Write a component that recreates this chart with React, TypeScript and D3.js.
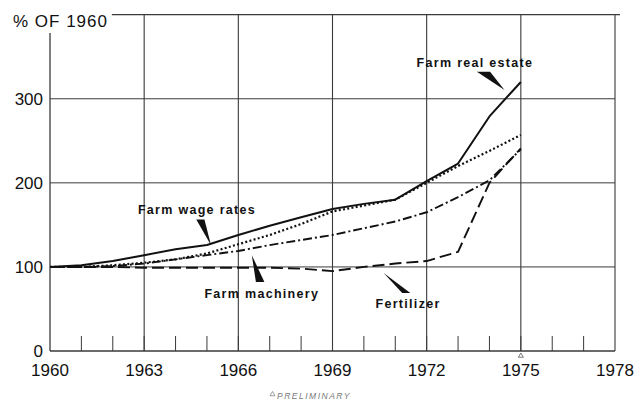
import React from "react";
import * as d3 from "d3";

// values, % of 1960
const years = [1960, 1961, 1962, 1963, 1964, 1965, 1966, 1967, 1968, 1969, 1970, 1971, 1972, 1973, 1974, 1975];
const realEstate = [100, 102, 107, 114, 121, 126, 138, 149, 159, 169, 175, 180, 202, 223, 279, 320];
const wageRates = [100, 100, 102, 105, 109, 116, 127, 138, 151, 166, 173, 180, 200, 220, 238, 257];
const machinery = [100, 100, 101, 104, 109, 114, 119, 126, 132, 138, 146, 154, 165, 183, 203, 240];
const fertilizer = [100, 100, 100, 99, 99, 99, 99, 99, 98, 95, 100, 104, 107, 118, 200, 241];

const xTicks = [1960, 1963, 1966, 1969, 1972, 1975, 1978];
const yTicks = [0, 100, 200, 300];
const minorYears = d3.range(1961, 1978);

const W = 643,
  H = 404;
const margin = { top: 13, right: 28, bottom: 53, left: 50 };

const font = "'Liberation Sans', Arial, Helvetica, sans-serif";

const series = [
  { key: "real", values: realEstate, dash: "none", width: 2 },
  { key: "wage", values: wageRates, dash: "2 2.3", width: 2.2 },
  { key: "mach", values: machinery, dash: "9 3 2 3", width: 1.9 },
  { key: "fert", values: fertilizer, dash: "12 5", width: 1.9 },
];

// callouts in data units: text start + wedge (two base points and a tip)
const callouts = [
  { text: "Farm real estate", at: [1971.68, 337.7], wedge: [[1973.6, 332], [1974.02, 332], [1974.48, 310.5]] },
  { text: "Farm wage rates", at: [1962.8, 162.7], wedge: [[1964.66, 156.4], [1964.92, 156.4], [1965.13, 125.8]] },
  { text: "Farm machinery", at: [1964.92, 62.7], wedge: [[1966.56, 82.1], [1966.83, 82.1], [1966.43, 113.9]] },
  { text: "Fertilizer", at: [1970.37, 50.8], wedge: [[1971.22, 69], [1971.48, 69], [1970.63, 92.9]] },
];

export default function App(): JSX.Element {
  const x = d3
    .scaleLinear()
    .domain([1960, 1978])
    .range([margin.left, W - margin.right]);
  const y = d3
    .scaleLinear()
    .domain([0, 400])
    .range([H - margin.bottom, margin.top + 1.7]);

  const line = d3
    .line<number>()
    .x((d, i) => x(years[i]))
    .y((d) => y(d));

  const x0 = x(1960),
    x1 = x(1978),
    yBase = y(0),
    yTop = y(400);
  const grid = "#3a3a3a";
  const tri = (cx: number, cy: number, s: number) =>
    `M${cx - s / 2},${cy + s * 0.85} L${cx + s / 2},${cy + s * 0.85} L${cx},${cy} Z`;

  return (
    <svg
      width={W}
      height={H}
      style={{ position: "absolute", left: 0, top: 0, background: "#fff" }}
      fontFamily={font}
    >
      {/* frame */}
      <line x1={x(1961.97)} x2={x1 + 5} y1={yTop} y2={yTop} stroke={grid} strokeWidth={1.2} />
      <line x1={x0} x2={x0} y1={33} y2={yBase} stroke={grid} strokeWidth={1.3} />
      <line x1={x0} x2={x1} y1={yBase} y2={yBase} stroke={grid} strokeWidth={1.4} />

      {/* grid */}
      {yTicks.slice(1).map((t) => (
        <line key={"h" + t} x1={x0} x2={x1} y1={y(t)} y2={y(t)} stroke={grid} strokeWidth={1} />
      ))}
      {xTicks.slice(1).map((t) => (
        <line key={"v" + t} x1={x(t)} x2={x(t)} y1={yTop} y2={yBase} stroke={grid} strokeWidth={1.1} />
      ))}
      {minorYears.map((t) => (
        <line key={"m" + t} x1={x(t)} x2={x(t)} y1={yBase - 15} y2={yBase} stroke={grid} strokeWidth={1} />
      ))}

      {/* labels */}
      <text x={13} y={27} fontSize={17} letterSpacing={1} fill="#111">
        % OF 1960
      </text>
      {yTicks.map((t) => (
        <text key={"yl" + t} x={43} y={y(t)} dy="0.36em" textAnchor="end" fontSize={17} fill="#111">
          {t}
        </text>
      ))}
      {xTicks.map((t) => (
        <text key={"xl" + t} x={x(t)} y={376} textAnchor="middle" fontSize={17} fill="#111">
          {t}
        </text>
      ))}
      <path d={tri(x(1975), yBase + 2, 5)} fill="none" stroke="#555" strokeWidth={0.8} />
      <path d={tri(272.5, 391.5, 5)} fill="none" stroke="#777" strokeWidth={0.7} />
      <text x={277} y={399} fontSize={8.5} fontStyle="italic" letterSpacing={1.5} fill="#777">
        PRELIMINARY
      </text>

      {/* series */}
      {series.map((s) => (
        <path
          key={s.key}
          d={line(s.values) || ""}
          fill="none"
          stroke="#111"
          strokeWidth={s.width}
          strokeDasharray={s.dash}
          strokeLinejoin="round"
        />
      ))}

      {/* callouts */}
      {callouts.map((c) => (
        <g key={c.text}>
          <path d={"M" + c.wedge.map((p) => `${x(p[0])},${y(p[1])}`).join("L") + "Z"} fill="#111" />
          <text x={x(c.at[0])} y={y(c.at[1])} fontSize={12.5} fontWeight="bold" letterSpacing={1.3} fill="#111">
            {c.text}
          </text>
        </g>
      ))}
    </svg>
  );
}
